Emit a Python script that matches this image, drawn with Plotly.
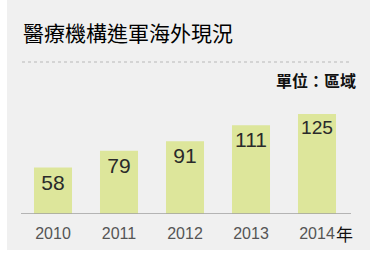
import plotly.graph_objects as go

years = ["2010", "2011", "2012", "2013", "2014"]
counts = [58, 79, 91, 111, 125]
title_text = "醫療機構進軍海外現況"
unit_text = "單位：區域"
year_suffix = "年"

W, H = 370, 255
ml, mr, mt, mb = 20, 20, 64, 41
ph = H - mt - mb  # 150
yr = ph / 0.8

def px_y(py):
    return (H - mb - py) / ph

def px_x(px):
    return (px - ml) / (W - ml - mr)

fig = go.Figure()
fig.add_trace(go.Bar(
    x=list(range(len(years))), y=counts,
    marker=dict(color="#dde69b", line=dict(width=0)),
    text=[str(v) for v in counts], textposition="inside", insidetextanchor="end",
    textangle=0,
    textfont=dict(family="Liberation Sans, Arial", size=21, color="#2a2a2a"),
    cliponaxis=False, hoverinfo="skip",
))

shapes = [
    dict(type="rect", xref="paper", yref="paper", x0=px_x(7), x1=px_x(372),
         y0=px_y(250), y1=px_y(-2), fillcolor="#f0f0f0", line=dict(width=0), layer="below"),
    dict(type="line", xref="paper", yref="paper", x0=px_x(22), x1=px_x(352),
         y0=px_y(62), y1=px_y(62), line=dict(color="#b8b8b8", width=1, dash="dot")),
    dict(type="line", xref="paper", yref="y", x0=px_x(21), x1=px_x(351),
         y0=0, y1=0, line=dict(color="#a0a0a0", width=1.5)),
]

annotations = [
    dict(text=title_text, xref="paper", yref="paper", x=px_x(21), y=px_y(32),
         xanchor="left", yanchor="middle", showarrow=False,
         font=dict(family="Noto Sans CJK TC", size=21, color="#000000")),
    dict(text="<b>" + unit_text + "</b>", xref="paper", yref="paper", x=px_x(358), y=px_y(80),
         xanchor="right", yanchor="middle", showarrow=False,
         font=dict(family="Noto Sans CJK TC", size=16, color="#111111")),
    dict(text=year_suffix, xref="paper", yref="paper", x=px_x(334), y=px_y(233),
         xanchor="left", yanchor="middle", showarrow=False,
         font=dict(family="Noto Sans CJK TC", size=17, color="#111111")),
]

fig.update_layout(
    width=W, height=H, margin=dict(l=ml, r=mr, t=mt, b=mb),
    paper_bgcolor="white", plot_bgcolor="rgba(0,0,0,0)",
    showlegend=False, bargap=0.424,
    shapes=shapes, annotations=annotations,
    xaxis=dict(range=[-0.5, 4.5], tickmode="array", tickvals=list(range(len(years))),
               ticktext=years, showgrid=False, zeroline=False, showline=False,
               ticks="", ticklabelstandoff=8,
               tickfont=dict(family="Liberation Sans, Arial", size=16, color="#555555"),
               fixedrange=True),
    yaxis=dict(range=[0, yr], visible=False, fixedrange=True),
)

fig.write_html("out.html", config={"displayModeBar": False})
